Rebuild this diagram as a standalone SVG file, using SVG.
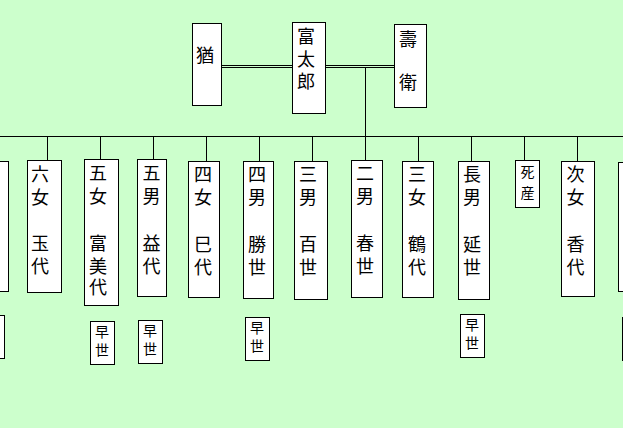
<svg xmlns="http://www.w3.org/2000/svg" width="623" height="428" viewBox="0 0 623 428">
<style>
.bg{fill:#CCFFCC}
.box{fill:#fff;stroke:#000;stroke-width:1}
.ln{stroke:#000;stroke-width:1;fill:none}
.t{font-family:"Noto Sans CJK JP","Noto Sans CJK SC",sans-serif;font-size:18px;fill:#000;text-anchor:middle}
.s{font-family:"Noto Sans CJK JP","Noto Sans CJK SC",sans-serif;font-size:14px;fill:#000;text-anchor:middle}
</style>
<rect class="bg" x="0" y="0" width="623" height="428"/>
<g id="connectors">
<line class="ln" x1="221" y1="65.5" x2="292" y2="65.5"/>
<line class="ln" x1="221" y1="67.5" x2="292" y2="67.5"/>
<line class="ln" x1="325" y1="65.5" x2="394" y2="65.5"/>
<line class="ln" x1="325" y1="67.5" x2="394" y2="67.5"/>
<line class="ln" x1="365.5" y1="67.5" x2="365.5" y2="136.5"/>
<line class="ln" x1="0" y1="136.5" x2="623" y2="136.5"/>
<line class="ln" x1="47.5" y1="136.5" x2="47.5" y2="160"/>
<line class="ln" x1="100.5" y1="136.5" x2="100.5" y2="159"/>
<line class="ln" x1="153.5" y1="136.5" x2="153.5" y2="159"/>
<line class="ln" x1="206.5" y1="136.5" x2="206.5" y2="161"/>
<line class="ln" x1="259.5" y1="136.5" x2="259.5" y2="161"/>
<line class="ln" x1="312.5" y1="136.5" x2="312.5" y2="161"/>
<line class="ln" x1="365.5" y1="136.5" x2="365.5" y2="160"/>
<line class="ln" x1="418.5" y1="136.5" x2="418.5" y2="161"/>
<line class="ln" x1="471.5" y1="136.5" x2="471.5" y2="161"/>
<line class="ln" x1="524.5" y1="136.5" x2="524.5" y2="160"/>
<line class="ln" x1="577.5" y1="136.5" x2="577.5" y2="161"/>
</g>
<g id="n-yu"><rect class="box" x="192.5" y="23.5" width="29" height="82"/><text class="t" x="205" y="62">猶</text></g>
<g id="n-tomitaro"><rect class="box" x="292.5" y="22.5" width="33" height="91"/><text class="t" x="306"><tspan x="306" y="43">富</tspan><tspan x="306" y="65.5">太</tspan><tspan x="306" y="88">郎</tspan></text></g>
<g id="n-sue"><rect class="box" x="394.5" y="24.5" width="32" height="83"/><text class="t" x="408"><tspan x="408" y="45.5">壽</tspan><tspan x="408" y="89">衛</tspan></text></g>

<g id="n-left"><rect class="box" x="-10.5" y="161.5" width="19" height="130"/></g>
<g id="n-rokujo"><rect class="box" x="27.5" y="160.5" width="34" height="132"/><text class="t"><tspan x="40" y="180.5">六</tspan><tspan x="40" y="203.5">女</tspan><tspan x="40" y="249.5">玉</tspan><tspan x="40" y="272.5">代</tspan></text></g>
<g id="n-gojo"><rect class="box" x="84.5" y="159.5" width="34" height="146"/><text class="t"><tspan x="98" y="180">五</tspan><tspan x="98" y="203">女</tspan><tspan x="98" y="250">富</tspan><tspan x="98" y="272.5">美</tspan><tspan x="98" y="294">代</tspan></text></g>
<g id="n-gonan"><rect class="box" x="137.5" y="159.5" width="29" height="137"/><text class="t"><tspan x="151.5" y="180">五</tspan><tspan x="151.5" y="203">男</tspan><tspan x="151.5" y="249.5">益</tspan><tspan x="151.5" y="272.5">代</tspan></text></g>
<g id="n-yonjo"><rect class="box" x="188.5" y="161.5" width="31" height="136"/><text class="t"><tspan x="203" y="181">四</tspan><tspan x="203" y="204">女</tspan><tspan x="203" y="250.5">巳</tspan><tspan x="203" y="273.5">代</tspan></text></g>
<g id="n-yonnan"><rect class="box" x="243.5" y="161.5" width="30" height="137"/><text class="t"><tspan x="257" y="181">四</tspan><tspan x="257" y="204">男</tspan><tspan x="257" y="251">勝</tspan><tspan x="257" y="274">世</tspan></text></g>
<g id="n-sannan"><rect class="box" x="294.5" y="161.5" width="33" height="138"/><text class="t"><tspan x="308" y="181">三</tspan><tspan x="308" y="204">男</tspan><tspan x="308" y="251">百</tspan><tspan x="308" y="274">世</tspan></text></g>
<g id="n-jinan"><rect class="box" x="351.5" y="160.5" width="31" height="137"/><text class="t"><tspan x="365" y="180">二</tspan><tspan x="365" y="203">男</tspan><tspan x="365" y="250">春</tspan><tspan x="365" y="273">世</tspan></text></g>
<g id="n-sanjo"><rect class="box" x="402.5" y="161.5" width="31" height="136"/><text class="t"><tspan x="417" y="181">三</tspan><tspan x="417" y="204">女</tspan><tspan x="417" y="251">鶴</tspan><tspan x="417" y="274">代</tspan></text></g>
<g id="n-chonan"><rect class="box" x="458.5" y="161.5" width="31" height="138"/><text class="t"><tspan x="472" y="181">長</tspan><tspan x="472" y="204">男</tspan><tspan x="472" y="251">延</tspan><tspan x="472" y="274">世</tspan></text></g>
<g id="n-shizan"><rect class="box" x="515.5" y="160.5" width="24" height="47"/><text class="s"><tspan x="527.5" y="177">死</tspan><tspan x="527.5" y="197.5">産</tspan></text></g>
<g id="n-jijo"><rect class="box" x="561.5" y="161.5" width="33" height="135"/><text class="t"><tspan x="575.5" y="181">次</tspan><tspan x="575.5" y="204">女</tspan><tspan x="575.5" y="251">香</tspan><tspan x="575.5" y="274">代</tspan></text></g>
<g id="n-right"><rect class="box" x="618.5" y="162.5" width="20" height="129"/></g>

<g id="d-left"><rect class="box" x="-20.5" y="315.5" width="25" height="43"/></g>
<g id="d-gojo"><rect class="box" x="90.5" y="321.5" width="24" height="43"/><text class="s"><tspan x="102" y="337">早</tspan><tspan x="102" y="355">世</tspan></text></g>
<g id="d-gonan"><rect class="box" x="138.5" y="320.5" width="24" height="43"/><text class="s"><tspan x="150" y="336">早</tspan><tspan x="150" y="354">世</tspan></text></g>
<g id="d-yonnan"><rect class="box" x="245.5" y="317.5" width="24" height="43"/><text class="s"><tspan x="257" y="333">早</tspan><tspan x="257" y="351">世</tspan></text></g>
<g id="d-chonan"><rect class="box" x="460.5" y="314.5" width="24" height="43"/><text class="s"><tspan x="472" y="330">早</tspan><tspan x="472" y="348">世</tspan></text></g>
<g id="d-right"><rect class="box" x="622.5" y="317.5" width="20" height="43"/></g>
</svg>
